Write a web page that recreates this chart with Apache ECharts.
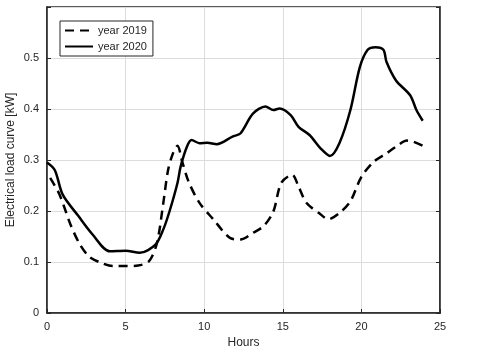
<!DOCTYPE html>
<html>
<head>
<meta charset="utf-8">
<title>Electrical load curve</title>
<script src="https://cdn.jsdelivr.net/npm/echarts@6/dist/echarts.min.js"></script>
</head>
<body style="margin:0">
<div id="main" style="width:480px;height:352px;"></div>
<script type="text/javascript">
// hours and load values
var hours2019 = [0.2, 0.8, 1.5, 2.1, 2.7, 3.4, 4.2, 5.1, 5.8, 6.5, 7.0, 7.4, 7.7, 8.0, 8.3, 8.6, 9.0, 9.7, 10.6, 11.6, 12.3, 13.1, 13.8, 14.4, 14.9, 15.6, 16.0, 16.5, 17.3, 17.9, 18.6, 19.3, 20.0, 20.8, 21.6, 22.2, 22.9, 23.3, 23.9];
var load2019 = [0.265, 0.232, 0.173, 0.134, 0.110, 0.099, 0.092, 0.092, 0.093, 0.102, 0.138, 0.216, 0.280, 0.312, 0.328, 0.297, 0.258, 0.216, 0.183, 0.148, 0.144, 0.157, 0.171, 0.199, 0.255, 0.271, 0.248, 0.216, 0.196, 0.184, 0.196, 0.219, 0.267, 0.297, 0.313, 0.326, 0.338, 0.336, 0.328];
var hours2020 = [0.0, 0.5, 1.0, 2.0, 2.9, 4.0, 5.0, 5.9, 6.9, 7.4, 7.8, 8.3, 8.5, 8.9, 9.2, 9.7, 10.2, 10.8, 11.8, 12.3, 13.1, 13.9, 14.4, 14.8, 15.5, 16.0, 16.7, 17.4, 18.0, 18.6, 19.3, 19.9, 20.4, 20.9, 21.4, 21.6, 22.2, 23.1, 23.5, 23.9];
var load2020 = [0.295, 0.280, 0.232, 0.190, 0.154, 0.121, 0.122, 0.118, 0.134, 0.164, 0.200, 0.255, 0.287, 0.326, 0.339, 0.333, 0.334, 0.331, 0.346, 0.352, 0.391, 0.405, 0.398, 0.401, 0.388, 0.365, 0.349, 0.323, 0.308, 0.333, 0.398, 0.482, 0.516, 0.521, 0.516, 0.492, 0.456, 0.427, 0.398, 0.377];
var xTicks = [0, 5, 10, 15, 20, 25];
var yTicks = [0, 0.1, 0.2, 0.3, 0.4, 0.5];

function pairs(xs, ys) {
    return xs.map(function (x, i) { return [x, ys[i]]; });
}

var axisColor = '#262626';
var myChart = echarts.init(document.getElementById('main'));

var option = {
    animation: false,
    textStyle: { fontFamily: 'Liberation Sans, Arial, sans-serif' },
    grid: {
        left: 47, right: 40, top: 7, bottom: 39,
        outerBoundsMode: 'none', containLabel: false,
        show: true, borderColor: axisColor, borderWidth: 1.5
    },
    legend: {
        orient: 'vertical',
        left: 60,
        top: 21,
        padding: [4, 6, 4, 4],
        itemGap: 5,
        itemWidth: 28,
        itemHeight: 12,
        backgroundColor: '#fff',
        borderColor: axisColor,
        borderWidth: 1,
        borderRadius: 0,
        itemStyle: { opacity: 0 },
        textStyle: { fontSize: 11, color: axisColor },
        data: ['year 2019', 'year 2020']
    },
    xAxis: {
        type: 'value',
        min: 0, max: 25, interval: 5,
        name: 'Hours',
        nameLocation: 'middle',
        nameGap: 24,
        nameTextStyle: { fontSize: 12, color: axisColor },
        axisLine: { lineStyle: { color: axisColor, width: 1.5 } },
        axisTick: { inside: true, length: 4, lineStyle: { color: axisColor } },
        axisLabel: { fontSize: 11, color: axisColor, margin: 8 },
        splitLine: { lineStyle: { color: '#dcdcdc' } }
    },
    yAxis: [{
        type: 'value',
        min: 0, max: 0.6, interval: 0.1,
        name: 'Electrical load curve [kW]',
        nameLocation: 'middle',
        nameGap: 30,
        nameMoveOverlap: false,
        nameTextStyle: { fontSize: 12, color: axisColor },
        axisLine: { show: true, lineStyle: { color: axisColor, width: 1.5 } },
        axisTick: { show: true, inside: true, length: 4, lineStyle: { color: axisColor } },
        axisLabel: {
            fontSize: 11, color: axisColor, margin: 8,
            formatter: function (v) {
                var t = yTicks.filter(function (k) { return Math.abs(k - v) < 1e-6; });
                return t.length ? String(t[0]) : '';
            }
        },
        splitLine: { lineStyle: { color: '#dcdcdc' } }
    }, {
        type: 'value', position: 'right',
        min: 0, max: 0.6, interval: 0.1,
        axisLine: { show: true, lineStyle: { color: axisColor, width: 1.5 } },
        axisTick: { show: true, inside: true, length: 4, lineStyle: { color: axisColor } },
        axisLabel: { show: false },
        splitLine: { show: false }
    }],
    series: [{
        name: 'year 2019',
        type: 'line',
        smooth: 0.3,
        showSymbol: false,
        symbol: 'none',
        lineStyle: { color: '#000', width: 2.5, type: [9, 6] },
        itemStyle: { color: '#000' },
        data: pairs(hours2019, load2019)
    }, {
        name: 'year 2020',
        type: 'line',
        smooth: 0.3,
        showSymbol: false,
        symbol: 'none',
        lineStyle: { color: '#000', width: 2.5 },
        itemStyle: { color: '#000' },
        data: pairs(hours2020, load2020)
    }]
};

myChart.setOption(option);
</script>
</body>
</html>
